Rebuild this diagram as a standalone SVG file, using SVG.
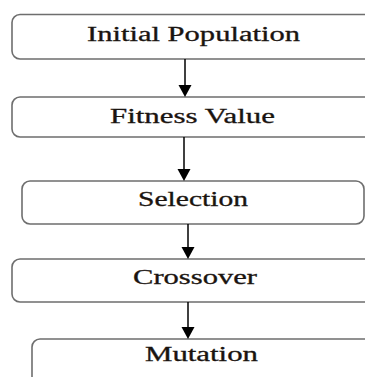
<svg xmlns="http://www.w3.org/2000/svg" width="365" height="377" viewBox="0 0 365 377">
<defs>
<style>
.box{fill:#fff;stroke:#6e6e6e;stroke-width:1.6}
.lbl{font-family:'Liberation Serif','Times New Roman',serif;font-size:20px;fill:#1a1410;stroke:#1a1410;stroke-width:0.3}
.edge{stroke:#000;stroke-width:1.5;fill:none}
</style>
</defs>
<rect width="365" height="377" fill="#fff"/>
<g id="initial-population">
<rect class="box" x="12" y="14.5" width="370" height="44.5" rx="8"/>
<text class="lbl" x="87" y="40.5" textLength="213" lengthAdjust="spacingAndGlyphs">Initial Population</text>
</g>
<g id="fitness-value">
<rect class="box" x="12" y="97" width="370" height="40" rx="8"/>
<text class="lbl" x="110" y="123" textLength="165" lengthAdjust="spacingAndGlyphs">Fitness Value</text>
</g>
<g id="selection">
<rect class="box" x="22" y="181" width="342" height="43" rx="8"/>
<text class="lbl" x="138" y="206" textLength="110" lengthAdjust="spacingAndGlyphs">Selection</text>
</g>
<g id="crossover">
<rect class="box" x="12" y="259" width="370" height="43" rx="8"/>
<text class="lbl" x="133" y="284" textLength="124" lengthAdjust="spacingAndGlyphs">Crossover</text>
</g>
<g id="mutation">
<rect class="box" x="32" y="339" width="350" height="60" rx="8"/>
<text class="lbl" x="145" y="361" textLength="113" lengthAdjust="spacingAndGlyphs">Mutation</text>
</g>
<g id="connectors">
<line class="edge" x1="185" y1="59" x2="185" y2="88"/>
<path d="M178.5,85 L191.5,85 L185,97 Z" fill="#000"/>
<line class="edge" x1="184" y1="137" x2="184" y2="172"/>
<path d="M177.5,169 L190.5,169 L184,181 Z" fill="#000"/>
<line class="edge" x1="188" y1="224" x2="188" y2="250"/>
<path d="M181.5,247 L194.5,247 L188,259 Z" fill="#000"/>
<line class="edge" x1="188" y1="302" x2="188" y2="330"/>
<path d="M181.5,327 L194.5,327 L188,339 Z" fill="#000"/>
</g>
</svg>
